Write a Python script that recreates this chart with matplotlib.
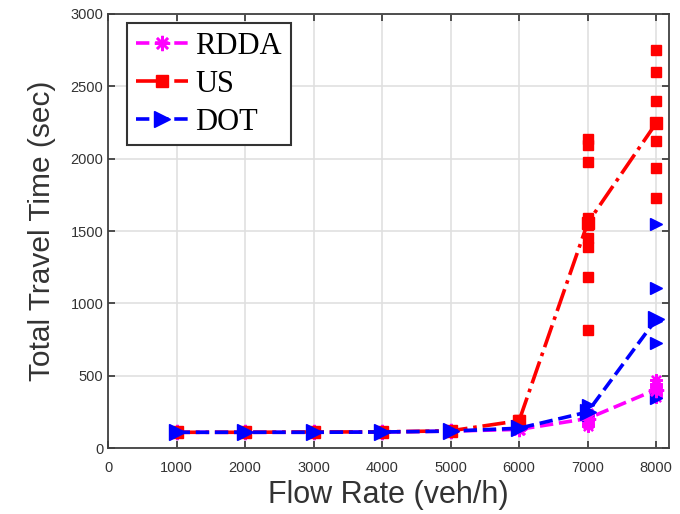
import matplotlib.pyplot as plt
import numpy as np

flow = [1000, 2000, 3000, 4000, 5000, 6000, 7000, 8000]

# mean total travel time per method
rdda_mean = [110, 110, 110, 112, 118, 130, 205, 405]
us_mean = [110, 110, 112, 113, 120, 190, 1555, 2245]
dot_mean = [110, 110, 110, 112, 118, 138, 250, 890]

# individual runs (flow, value)
rdda_runs_x = [1000, 2000, 3000, 4000, 5000, 6000, 7000, 7000, 7000, 7000, 7000,
               8000, 8000, 8000, 8000, 8000, 8000]
rdda_runs_y = [108, 108, 110, 110, 116, 128, 240, 215, 190, 170, 150,
               470, 445, 420, 395, 375, 355]
us_runs_x = [1000, 2000, 3000, 4000, 5000, 6000, 7000, 7000, 7000, 7000, 7000, 7000,
             7000, 7000, 7000, 8000, 8000, 8000, 8000, 8000, 8000, 8000]
us_runs_y = [112, 112, 114, 115, 122, 195, 2135, 2095, 1980, 1590, 1540, 1450,
             1390, 1180, 815, 2748, 2596, 2400, 2245, 2125, 1938, 1731]
dot_runs_x = [1000, 2000, 3000, 4000, 5000, 6000, 7000, 7000, 7000,
              8000, 8000, 8000, 8000, 8000]
dot_runs_y = [110, 110, 110, 112, 118, 138, 297, 250, 228,
              1549, 1104, 880, 724, 344]

fig = plt.figure(figsize=(6.8, 5.14), dpi=100)
ax = fig.add_axes([0.159, 0.128, 0.825, 0.845])

asterisk = (8, 2, 0)

ax.plot(rdda_runs_x, rdda_runs_y, ls='none', marker=asterisk, color='magenta',
        ms=9, mew=1.6, zorder=3)
ax.plot(us_runs_x, us_runs_y, ls='none', marker='s', color='red', ms=6.5, zorder=3)
ax.plot(dot_runs_x, dot_runs_y, ls='none', marker='>', color='blue', ms=8, zorder=3)

ax.plot(flow, rdda_mean, ls='--', color='magenta', lw=2.6, marker=asterisk,
        ms=11, mew=1.8, label='RDDA', zorder=4)
ax.plot(flow, us_mean, ls='-.', color='red', lw=2.6, marker='s',
        ms=9, label='US', zorder=4)
ax.plot(flow, dot_mean, ls='--', color='blue', lw=2.6, marker='>',
        ms=11, label='DOT', zorder=5)

ax.set_xlim(0, 8190)
ax.set_ylim(0, 3000)
ax.set_xticks(np.arange(0, 8001, 1000))
ax.set_yticks(np.arange(0, 3001, 500))
ax.grid(True, color='#e0e0e0', lw=1.2)
ax.set_axisbelow(True)
ax.tick_params(direction='in', top=True, right=True, length=5, width=1.2,
               labelsize=10.5, labelcolor='#333333', color='#333333')
ax.tick_params(axis='x', pad=9)
for s in ax.spines.values():
    s.set_color('#404040')
    s.set_linewidth(1.3)

ax.set_xlabel('Flow Rate (veh/h)', fontsize=22, family='Liberation Sans',
              color='#333333', labelpad=4)
ax.set_ylabel('Total Travel Time (sec)', fontsize=21.5, family='Liberation Sans',
              color='#333333', labelpad=10)
for lbl in ax.get_xticklabels() + ax.get_yticklabels():
    lbl.set_family('Liberation Sans')

leg = ax.legend(loc='upper left', bbox_to_anchor=(0.034, 0.979), borderaxespad=0,
                prop={'family': 'Liberation Serif', 'size': 22},
                fancybox=False, framealpha=1, edgecolor='#333333',
                handlelength=1.7, labelspacing=0.3, borderpad=0.28, handletextpad=0.25)
leg.get_frame().set_linewidth(1.5)

plt.savefig('out.png', dpi=100)
